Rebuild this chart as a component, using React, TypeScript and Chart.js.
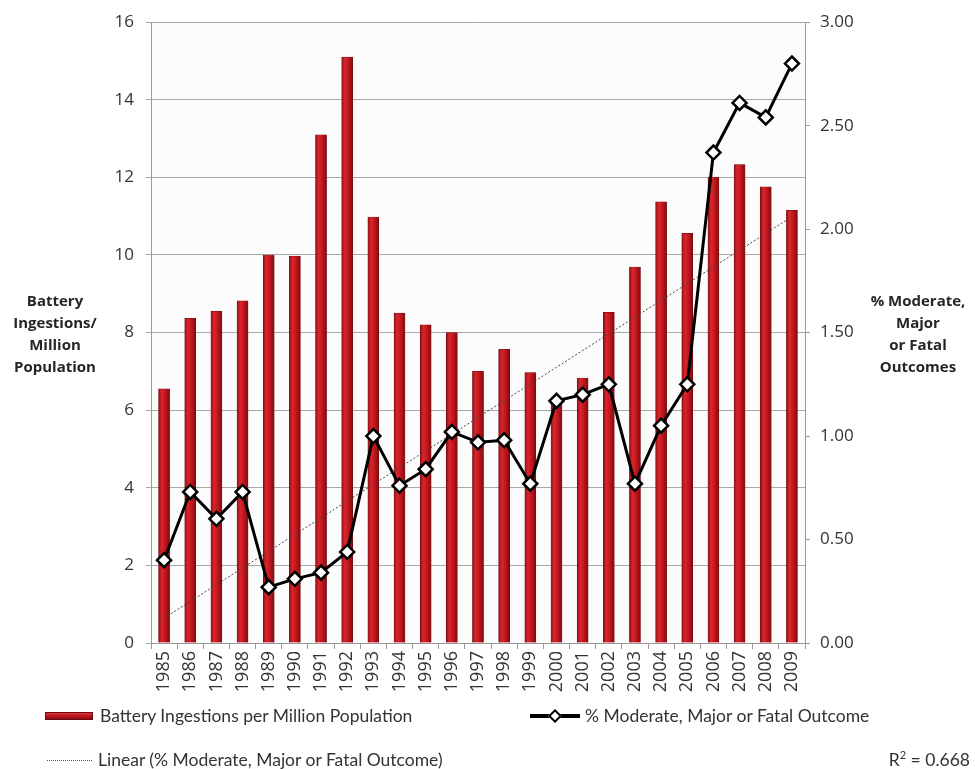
import React, { useEffect, useRef } from 'react';
import { Chart, registerables } from 'chart.js';

Chart.register(...registerables);

const years = ['1985','1986','1987','1988','1989','1990','1991','1992','1993','1994','1995','1996','1997','1998','1999','2000','2001','2002','2003','2004','2005','2006','2007','2008','2009'];
const ingestionsPerMillion = [6.55, 8.37, 8.55, 8.82, 10.0, 9.97, 13.1, 15.1, 10.98, 8.5, 8.2, 8.0, 7.0, 7.57, 6.97, 6.3, 6.83, 8.52, 9.69, 11.37, 10.56, 12.01, 12.33, 11.76, 11.15];
const pctModerateMajorFatal = [0.40, 0.73, 0.60, 0.73, 0.27, 0.31, 0.34, 0.44, 1.00, 0.76, 0.84, 1.02, 0.97, 0.98, 0.77, 1.17, 1.20, 1.25, 0.77, 1.05, 1.25, 2.37, 2.61, 2.54, 2.80];
const trendYears = ['1985', '2009'];
const trendValues = [0.12, 2.06];
const rSquaredLabel = '0.668';

const FONT = "'Open Sans', sans-serif";
const LEGEND_FONT = "Lato, sans-serif";

const plotBg = {
  id: 'plotBg',
  beforeDraw(chart: any) {
    const { ctx, chartArea } = chart;
    if (!chartArea) return;
    ctx.save();
    ctx.fillStyle = '#fcfcfc';
    ctx.fillRect(chartArea.left, chartArea.top, chartArea.right - chartArea.left, chartArea.bottom - chartArea.top);
    ctx.restore();
  },
};

export default function App() {
  const ref = useRef<HTMLCanvasElement | null>(null);

  useEffect(() => {
    document.body.style.margin = '0';
    const canvas = ref.current;
    if (!canvas) return;
    const chart = new Chart(canvas, {
      type: 'bar',
      data: {
        labels: years,
        datasets: [
          {
            type: 'line',
            label: '% Moderate, Major or Fatal Outcome',
            data: pctModerateMajorFatal,
            yAxisID: 'y1',
            borderColor: '#000',
            borderWidth: 3,
            pointStyle: 'rectRot',
            pointRadius: 7,
            pointBackgroundColor: '#fff',
            pointBorderColor: '#000',
            pointBorderWidth: 2.5,
            tension: 0,
            order: 0,
          } as any,
          {
            type: 'line',
            label: 'Linear (% Moderate, Major or Fatal Outcome)',
            data: trendYears.map((x, i) => ({ x, y: trendValues[i] })),
            yAxisID: 'y1',
            borderColor: '#444',
            borderWidth: 1,
            borderDash: [2, 2],
            pointRadius: 0,
            order: 1,
          } as any,
          {
            type: 'bar',
            label: 'Battery Ingestions per Million Population',
            data: ingestionsPerMillion,
            yAxisID: 'y',
            barThickness: 11,
            borderColor: '#6a0a0e',
            borderWidth: 0.5,
            backgroundColor: (c: any) => {
              const ch = c.chart;
              const xs = ch.scales && ch.scales.x;
              if (!xs || c.type !== 'data' || !ch.chartArea) return '#c0161e';
              const x = xs.getPixelForValue(c.dataIndex);
              const g = ch.ctx.createLinearGradient(x - 6, 0, x + 6, 0);
              g.addColorStop(0, '#860c11');
              g.addColorStop(0.3, '#d8262c');
              g.addColorStop(0.55, '#c8181f');
              g.addColorStop(1, '#7a0a0e');
              return g;
            },
            order: 2,
          } as any,
        ],
      },
      options: {
        responsive: false,
        devicePixelRatio: 1,
        animation: false,
        layout: { padding: { left: 0, right: 0, top: 22, bottom: 0 } },
        plugins: {
          legend: { display: false },
          tooltip: { enabled: false },
        },
        scales: {
          x: {
            type: 'category',
            offset: true,
            grid: { offset: true, drawOnChartArea: false, drawTicks: true, tickLength: 6, color: '#9a9a9a' },
            border: { color: '#9a9a9a' },
            ticks: { minRotation: 90, maxRotation: 90, autoSkip: false, padding: 2, color: '#333', font: { family: FONT, size: 18 } },
            afterFit: (s: any) => { s.height = 126; },
          },
          y: {
            position: 'left',
            min: 0,
            max: 16,
            ticks: { stepSize: 2, padding: 12, color: '#333', font: { family: FONT, size: 17 } },
            grid: { color: '#a8a8a8', tickLength: 5 },
            border: { color: '#9a9a9a' },
            afterFit: (s: any) => { s.width = 151; },
          },
          y1: {
            position: 'right',
            min: 0,
            max: 3,
            ticks: { stepSize: 0.5, padding: 10, color: '#333', font: { family: FONT, size: 17 }, callback: (v: any) => Number(v).toFixed(2) },
            grid: { drawOnChartArea: false, tickLength: 5, color: '#9a9a9a' },
            border: { color: '#9a9a9a' },
            afterFit: (s: any) => { s.width = 170; },
          },
        },
      },
      plugins: [plotBg],
    });
    return () => chart.destroy();
  }, []);

  const titleStyle: React.CSSProperties = {
    position: 'absolute',
    fontFamily: FONT,
    fontWeight: 700,
    fontSize: 15,
    lineHeight: '22px',
    color: '#262626',
    textAlign: 'center',
    whiteSpace: 'nowrap',
  };
  const legendText: React.CSSProperties = {
    position: 'absolute',
    fontFamily: LEGEND_FONT,
    fontSize: 17.5,
    lineHeight: '20px',
    color: '#333',
    whiteSpace: 'nowrap',
  };

  return (
    <div style={{ position: 'relative', width: 975, height: 769, background: '#fff', overflow: 'hidden' }}>
      <canvas ref={ref} width={975} height={769} style={{ position: 'absolute', left: 0, top: 0, width: 975, height: 769 }} />
      <div style={{ ...titleStyle, left: 0, width: 110, top: 289 }}>
        Battery<br />Ingestions/<br />Million<br />Population
      </div>
      <div style={{ ...titleStyle, left: 860, width: 116, top: 289 }}>
        % Moderate,<br />Major<br />or Fatal<br />Outcomes
      </div>
      <div style={{ position: 'absolute', left: 45, top: 712, width: 48, height: 8, background: 'linear-gradient(#e0353b, #c0161e 45%, #8a0d12)', border: '0.5px solid #6a0a0e', boxSizing: 'border-box' }} />
      <div style={{ ...legendText, left: 100, top: 706 }}>Battery Ingestions per Million Population</div>
      <div style={{ position: 'absolute', left: 530, top: 714, width: 50, height: 4, background: '#000' }} />
      <div style={{ position: 'absolute', left: 550, top: 711, width: 10, height: 10, background: '#fff', border: '2.5px solid #000', boxSizing: 'border-box', transform: 'rotate(45deg)' }} />
      <div style={{ ...legendText, left: 585, top: 706 }}>% Moderate, Major or Fatal Outcome</div>
      <div style={{ position: 'absolute', left: 47, top: 760, width: 45, height: 0, borderTop: '1px dotted #555' }} />
      <div style={{ ...legendText, left: 98, top: 750 }}>Linear (% Moderate, Major or Fatal Outcome)</div>
      <div style={{ ...legendText, right: 5, top: 750 }}>R<sup style={{ fontSize: 11, lineHeight: 0 }}>2</sup> = {rSquaredLabel}</div>
    </div>
  );
}
